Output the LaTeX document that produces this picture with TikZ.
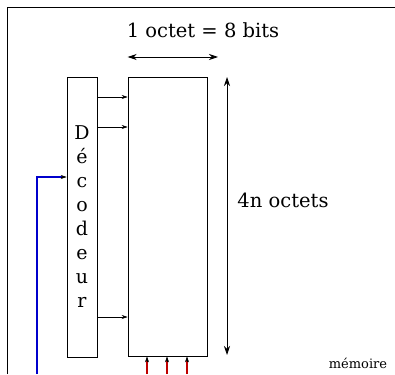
\documentclass[tikz,border=0pt]{standalone}
\usepackage{fontspec}
\setmainfont{DejaVu Serif}
\usetikzlibrary{arrows.meta, positioning}
\tikzset{
    block/.style={rectangle, draw=black, semithick, inner sep=0pt},
    tip/.tip={Stealth[length=6pt, width=4pt]},
    arrow/.style={semithick, -tip},
    bus/.style={line width=1.1pt, draw=#1},
    dimension/.style={thick, {Stealth[length=9pt, width=6pt]}-{Stealth[length=9pt, width=6pt]}}
}
\begin{document}
\begin{tikzpicture}[x=1pt, y=-1pt]
    \useasboundingbox (0,0) rectangle (395,374);
    % frame around the figure
    \draw[semithick] (7,374) -- (7,7) -- (395,7);
    \node[block, minimum width=30pt, minimum height=280pt, align=center, font=\fontsize{19}{24}\selectfont] (dec) at (82,217) {D\\é\\c\\o\\d\\e\\u\\r};
    \node[block, minimum width=79pt, minimum height=279pt] (mem) at (167.5,216.5) {};
    \node[font=\fontsize{19.5}{22}\selectfont] (width) at (203,30) {1 octet = 8 bits};
    \node[font=\fontsize{19.5}{22}\selectfont] (height) at (283,200) {4n octets};
    \node[font=\fontsize{13}{14}\selectfont] (label) at (358,363) {mémoire};

    % dimensions
    \draw[dimension] (mem.north west |- 0,57) -- (218,57);
    \draw[dimension] (227,77) -- (227,355);

    % word lines
    \foreach \y in {97,127,317}
        \draw[arrow] (dec.east |- 0,\y) -- (mem.west |- 0,\y);

    % address bus (coloured line, black tip)
    \coordinate (addr) at (37,374);
    \coordinate (addrin) at (dec.west |- 0,177);
    \draw[bus=blue!80!black] (addr) |- ([xshift=-5pt]addrin);
    \draw[arrow] ([xshift=-6pt]addrin) -- (addrin);

    % data lines
    \foreach \x in {147,167,187} {
        \draw[bus=red!75!black] (\x,374) -- ([yshift=-5pt]mem.south -| \x,0);
        \draw[arrow] ([yshift=-6pt]mem.south -| \x,0) -- (mem.south -| \x,0);
    }
\end{tikzpicture}
\end{document}
